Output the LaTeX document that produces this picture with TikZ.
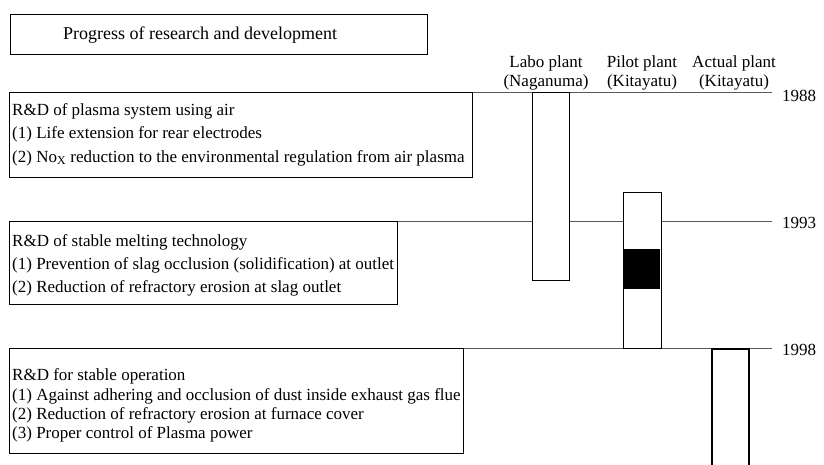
\documentclass[tikz,border=0pt]{standalone}
\usepackage{fontspec}
\setmainfont{Liberation Serif}
\begin{document}
\begin{tikzpicture}[x=1pt,y=-1pt,
  txt/.style={font=\fontsize{17}{19}\selectfont, inner sep=0pt},
  boxtext/.style={txt, anchor=mid west},
  framebox/.style={draw=black, line width=1.2pt, inner sep=0pt, anchor=north west},
  plantbox/.style={draw=black, line width=1.3pt, fill=white, inner sep=0pt, anchor=north west},
  yearline/.style={draw=black!65, line width=0.6pt},
  yeartext/.style={txt, anchor=mid west},
  collabel/.style={txt, align=center, anchor=center}]
\useasboundingbox (0,0) rectangle (824,465);

% title
\node[framebox, minimum width=417pt, minimum height=40pt] (title) at (10,14) {};
\node[txt, font=\fontsize{18}{20}\selectfont, anchor=mid west] (titletext) at (63,37) {Progress of research and development};

% research boxes
\node[framebox, minimum width=463pt, minimum height=85pt] (b1) at (9,92) {};
\node[boxtext] (b1l1) at (12,113) {R\&D of plasma system using air};
\node[boxtext] (b1l2) at (12,136) {(1) Life extension for rear electrodes};
\node[boxtext] (b1l3) at (12,160) {(2) No\textsubscript{X} reduction to the environmental regulation from air plasma};

\node[framebox, minimum width=388pt, minimum height=83pt] (b2) at (9,221) {};
\node[boxtext] (b2l1) at (12,244) {R\&D of stable melting technology};
\node[boxtext] (b2l2) at (12,267) {(1) Prevention of slag occlusion (solidification) at outlet};
\node[boxtext] (b2l3) at (12,290) {(2) Reduction of refractory erosion at slag outlet};

\node[framebox, minimum width=454pt, minimum height=105pt] (b3) at (9,348) {};
\node[boxtext] (b3l1) at (12,378) {R\&D for stable operation};
\node[boxtext] (b3l2) at (12,398) {(1) Against adhering and occlusion of dust inside exhaust gas flue};
\node[boxtext] (b3l3) at (12,417) {(2) Reduction of refractory erosion at furnace cover};
\node[boxtext] (b3l4) at (12,436) {(3) Proper control of Plasma power};

% year lines
\coordinate (e88) at (772,92);
\coordinate (e93) at (772,221);
\coordinate (e98) at (772,348);
\draw[yearline] (b1.north east) -- (e88);
\draw[yearline] (b2.north east) -- (e93);
\draw[yearline] (b3.north east) -- (e98);
\node[yeartext] (y88) at (782,99) {1988};
\node[yeartext] (y93) at (782,226) {1993};
\node[yeartext] (y98) at (782,353) {1998};

% column labels
\node[collabel] (labo) at (546,73) {Labo plant\\(Naganuma)};
\node[collabel] (pilot) at (642,73) {Pilot plant\\(Kitayatu)};
\node[collabel] (actual) at (734,73) {Actual plant\\(Kitayatu)};

% plant bars
\node[plantbox, minimum width=37pt, minimum height=188pt] (labobar) at (532,92) {};
\node[plantbox, minimum width=38pt, minimum height=156pt] (pilotbar) at (623,192) {};
\node[fill=black, inner sep=0pt, minimum width=36pt, minimum height=40pt, anchor=north] (band) at (642,249) {};
\coordinate (abl) at (712,465);
\coordinate (atl) at (712,349);
\coordinate (atr) at (749,349);
\coordinate (abr) at (749,465);
\fill[white] (abl) rectangle (atr);
\draw[draw=black, line width=1.3pt] (abl) -- (atl) -- (atr) -- (abr);
\end{tikzpicture}
\end{document}
